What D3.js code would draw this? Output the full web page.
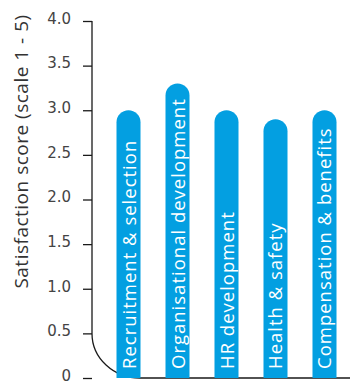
<!DOCTYPE html>
<html>
<head>
<meta charset="utf-8">
<script src="https://cdn.jsdelivr.net/npm/d3@7"></script>
<style>
  html, body { margin: 0; padding: 0; background: #fff; }
  svg { display: block; }
</style>
</head>
<body>
<svg id="chart" width="352" height="381"></svg>
<script>
// HR service satisfaction, scale 1 - 5
const categories = [
  "Recruitment & selection",
  "Organisational development",
  "HR development",
  "Health & safety",
  "Compensation & benefits"
];
const scores = [3.0, 3.3, 3.0, 2.9, 3.0];
const tickValues = [0, 0.5, 1.0, 1.5, 2.0, 2.5, 3.0, 3.5, 4.0];
const tickLabels = ["0", "0.5", "1.0", "1.5", "2.0", "2.5", "3.0", "3.5", "4.0"];
const axisTitle = "Satisfaction score (scale 1 - 5)";

const svg = d3.select("#chart");
const axisX = 92;

const y = d3.scaleLinear().domain([0, 4]).range([378, 21]);
const x = d3.scaleBand()
  .domain(categories)
  .range([116.5, 336.5])
  .paddingInner(0.51)
  .paddingOuter(0);

// y axis ticks and labels
const yAxis = d3.axisLeft(y)
  .tickValues(tickValues)
  .tickFormat((d, i) => tickLabels[i])
  .tickSize(9)
  .tickPadding(12);

const gAxis = svg.append("g")
  .attr("transform", `translate(${axisX},0)`)
  .call(yAxis);
gAxis.select(".domain").remove();
gAxis.selectAll(".tick line").attr("stroke", "#1a1a1a").attr("stroke-width", 1.3);
gAxis.selectAll(".tick text")
  .attr("fill", "#444")
  .attr("dy", "0.15em")
  .style("font-family", "'DejaVu Sans', Verdana, sans-serif")
  .style("font-size", "15px");

// axis line with a rounded corner into the baseline
const cornerTop = y(0.5);
const cornerEnd = 140;
const base = y(0);
svg.append("path")
  .attr("d", `M${axisX},${y(4)} L${axisX},${cornerTop} ` +
             `A${cornerEnd - axisX},${base - cornerTop} 0 0 0 ${cornerEnd},${base} L350,${base}`)
  .attr("fill", "none")
  .attr("stroke", "#1a1a1a")
  .attr("stroke-width", 1.3);

// y axis title
svg.append("text")
  .attr("transform", `translate(28,${(5 + 298) / 2}) rotate(-90)`)
  .attr("text-anchor", "middle")
  .attr("fill", "#333")
  .style("font-family", "'Open Sans', sans-serif")
  .style("font-size", "19px")
  .style("letter-spacing", "0.5px")
  .text(axisTitle);

// bars with rounded tops
const bw = x.bandwidth();
const r = bw / 2;
function barPath(d, i) {
  const x0 = x(categories[i]);
  const yt = y(d);
  return `M${x0},${base} L${x0},${yt + r} A${r},${r} 0 0 1 ${x0 + bw},${yt + r} L${x0 + bw},${base} Z`;
}
svg.append("g").selectAll("path")
  .data(scores)
  .join("path")
  .attr("d", barPath)
  .attr("fill", "#039fe1");

// category labels inside the bars
svg.append("g").selectAll("text")
  .data(categories)
  .join("text")
  .attr("transform", d => `translate(${x(d) + bw / 2 + 7},369) rotate(-90)`)
  .attr("text-anchor", "start")
  .attr("fill", "#fff")
  .style("font-family", "'Open Sans', sans-serif")
  .style("font-size", "18.5px")
  .style("letter-spacing", "1px")
  .text(d => d);
</script>
</body>
</html>
